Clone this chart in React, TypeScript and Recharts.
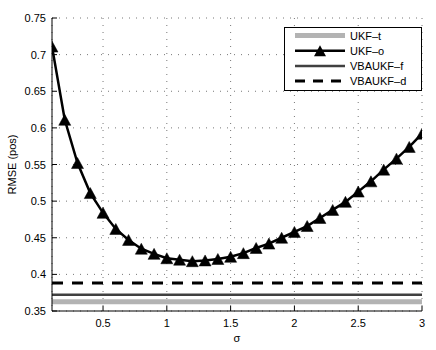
import React from "react";
import {
  LineChart,
  Line,
  XAxis,
  YAxis,
  CartesianGrid,
} from "recharts";

// sigma values on the x axis
const sigma = [
  0.1, 0.2, 0.3, 0.4, 0.5, 0.6, 0.7, 0.8, 0.9, 1.0,
  1.1, 1.2, 1.3, 1.4, 1.5, 1.6, 1.7, 1.8, 1.9, 2.0,
  2.1, 2.2, 2.3, 2.4, 2.5, 2.6, 2.7, 2.8, 2.9, 3.0,
];

// UKF-o RMSE for each sigma
const ukfO = [
  0.711, 0.611, 0.552, 0.511, 0.484, 0.462, 0.447, 0.435, 0.428, 0.422,
  0.42, 0.418, 0.419, 0.421, 0.424, 0.429, 0.436, 0.442, 0.45, 0.458,
  0.466, 0.477, 0.488, 0.499, 0.513, 0.527, 0.543, 0.558, 0.574, 0.592,
];

// flat reference levels
const ukfT = 0.3627;
const vbaukfF = 0.3722;
const vbaukfD = 0.3882;

const xTicks = [0.5, 1, 1.5, 2, 2.5, 3];
const yTicks = [0.35, 0.4, 0.45, 0.5, 0.55, 0.6, 0.65, 0.7, 0.75];

const FONT = '"Liberation Sans", Arial, Helvetica, sans-serif';

const data = sigma.map((s, i) => ({
  sigma: s,
  ukfT,
  ukfO: ukfO[i],
  vbaukfF,
  vbaukfD,
}));

const series = [
  { key: "ukfT", name: "UKF–t", color: "#b3b3b3", width: 5, dash: undefined, marker: false },
  { key: "ukfO", name: "UKF–o", color: "#000000", width: 2.5, dash: undefined, marker: true },
  { key: "vbaukfF", name: "VBAUKF–f", color: "#404040", width: 2.5, dash: undefined, marker: false },
  { key: "vbaukfD", name: "VBAUKF–d", color: "#000000", width: 3, dash: "11 9", marker: false },
];

function triangle(cx: number, cy: number) {
  const hw = 6;
  const hh = 5.5;
  return `M${cx},${cy - hh}L${cx + hw},${cy + hh}L${cx - hw},${cy + hh}Z`;
}

const TriangleDot = (props: any) => {
  const { cx, cy, index } = props;
  if (cx == null || cy == null) return <g key={`d-${index}`} />;
  return <path key={`d-${index}`} d={triangle(cx, cy)} fill="#000" stroke="#000" strokeWidth={0.5} />;
};

const BottomTick = (props: any) => {
  const { x, y, payload } = props;
  return (
    <g>
      <line x1={x} x2={x} y1={y} y2={y - 5} stroke="#000" strokeWidth={1} />
      <text x={x} y={y + 11.5} textAnchor="middle" dominantBaseline="central" fontSize={11} fontFamily={FONT} fill="#000">
        {String(payload.value)}
      </text>
    </g>
  );
};

const TopTick = (props: any) => {
  const { x, y } = props;
  return <line x1={x} x2={x} y1={y} y2={y + 5} stroke="#000" strokeWidth={1} />;
};

const LeftTick = (props: any) => {
  const { x, y, payload } = props;
  return (
    <g>
      <line x1={x} x2={x + 5} y1={y} y2={y} stroke="#000" strokeWidth={1} />
      <text x={x - 6} y={y} textAnchor="end" dominantBaseline="central" fontSize={11} fontFamily={FONT} fill="#000">
        {String(payload.value)}
      </text>
    </g>
  );
};

const RightTick = (props: any) => {
  const { x, y } = props;
  return <line x1={x} x2={x - 5} y1={y} y2={y} stroke="#000" strokeWidth={1} />;
};

function LegendBox() {
  const rowY = (i: number) => 8.5 + i * 15.2;
  return (
    <svg
      width={138}
      height={64}
      style={{ position: "absolute", left: 284, top: 27 }}
    >
      <rect x={0.5} y={0.5} width={137} height={63} fill="#fff" stroke="#000" strokeWidth={1} />
      {series.map((s, i) => (
        <g key={s.key}>
          <line
            x1={11}
            x2={61}
            y1={rowY(i)}
            y2={rowY(i)}
            stroke={s.color}
            strokeWidth={s.width}
            strokeDasharray={s.dash ? "10 8" : undefined}
          />
          {s.marker && <path d={triangle(36, rowY(i))} fill="#000" />}
          <text x={66} y={rowY(i)} dominantBaseline="central" fontSize={11} fontFamily={FONT} fill="#000">
            {s.name}
          </text>
        </g>
      ))}
    </svg>
  );
}

export default function App() {
  return (
    <div style={{ position: "absolute", left: 0, top: 0, width: 436, height: 350, background: "#fff" }}>
      <LineChart
        width={436}
        height={350}
        data={data}
        margin={{ top: 18, right: 14, bottom: 0, left: 0 }}
      >
        <CartesianGrid stroke="#777" strokeDasharray="1 6" strokeWidth={1} />
        <XAxis
          dataKey="sigma"
          type="number"
          domain={[0.1, 3]}
          ticks={xTicks}
          interval={0}
          height={39}
          tickSize={0}
          tickMargin={0}
          tickLine={false}
          axisLine={{ stroke: "#000", strokeWidth: 1 }}
          tick={<BottomTick />}
          allowDataOverflow
          label={({ viewBox }: any) => (
            <text
              x={viewBox.x + viewBox.width / 2}
              y={viewBox.y + 27}
              textAnchor="middle"
              dominantBaseline="central"
              fontSize={11}
              fontFamily={FONT}
              fill="#000"
            >
              σ
            </text>
          )}
        />
        <XAxis
          xAxisId="top"
          orientation="top"
          type="number"
          domain={[0.1, 3]}
          ticks={xTicks}
          interval={0}
          height={0}
          tickSize={0}
          tickMargin={0}
          tickLine={false}
          axisLine={{ stroke: "#000", strokeWidth: 1 }}
          tick={<TopTick />}
          allowDataOverflow
        />
        <YAxis
          type="number"
          domain={[0.35, 0.75]}
          ticks={yTicks}
          interval={0}
          width={52}
          tickSize={0}
          tickMargin={0}
          tickLine={false}
          axisLine={{ stroke: "#000", strokeWidth: 1 }}
          tick={<LeftTick />}
          allowDataOverflow
          label={({ viewBox }: any) => {
            const cx = 12;
            const cy = viewBox.y + viewBox.height / 2;
            return (
              <text
                x={cx}
                y={cy}
                transform={`rotate(-90 ${cx} ${cy})`}
                textAnchor="middle"
                dominantBaseline="central"
                fontSize={11}
                fontFamily={FONT}
                fill="#000"
              >
                RMSE (pos)
              </text>
            );
          }}
        />
        <YAxis
          yAxisId="right"
          orientation="right"
          type="number"
          domain={[0.35, 0.75]}
          ticks={yTicks}
          interval={0}
          width={0}
          tickSize={0}
          tickMargin={0}
          tickLine={false}
          axisLine={{ stroke: "#000", strokeWidth: 1 }}
          tick={<RightTick />}
          allowDataOverflow
        />
        {series.map((s) => (
          <Line
            key={s.key}
            type="linear"
            dataKey={s.key}
            name={s.name}
            stroke={s.color}
            strokeWidth={s.width}
            strokeDasharray={s.dash}
            dot={s.marker ? (p: any) => <TriangleDot {...p} key={`dot-${p.index}`} /> : false}
            activeDot={false}
            isAnimationActive={false}
          />
        ))}
      </LineChart>
      <LegendBox />
    </div>
  );
}
